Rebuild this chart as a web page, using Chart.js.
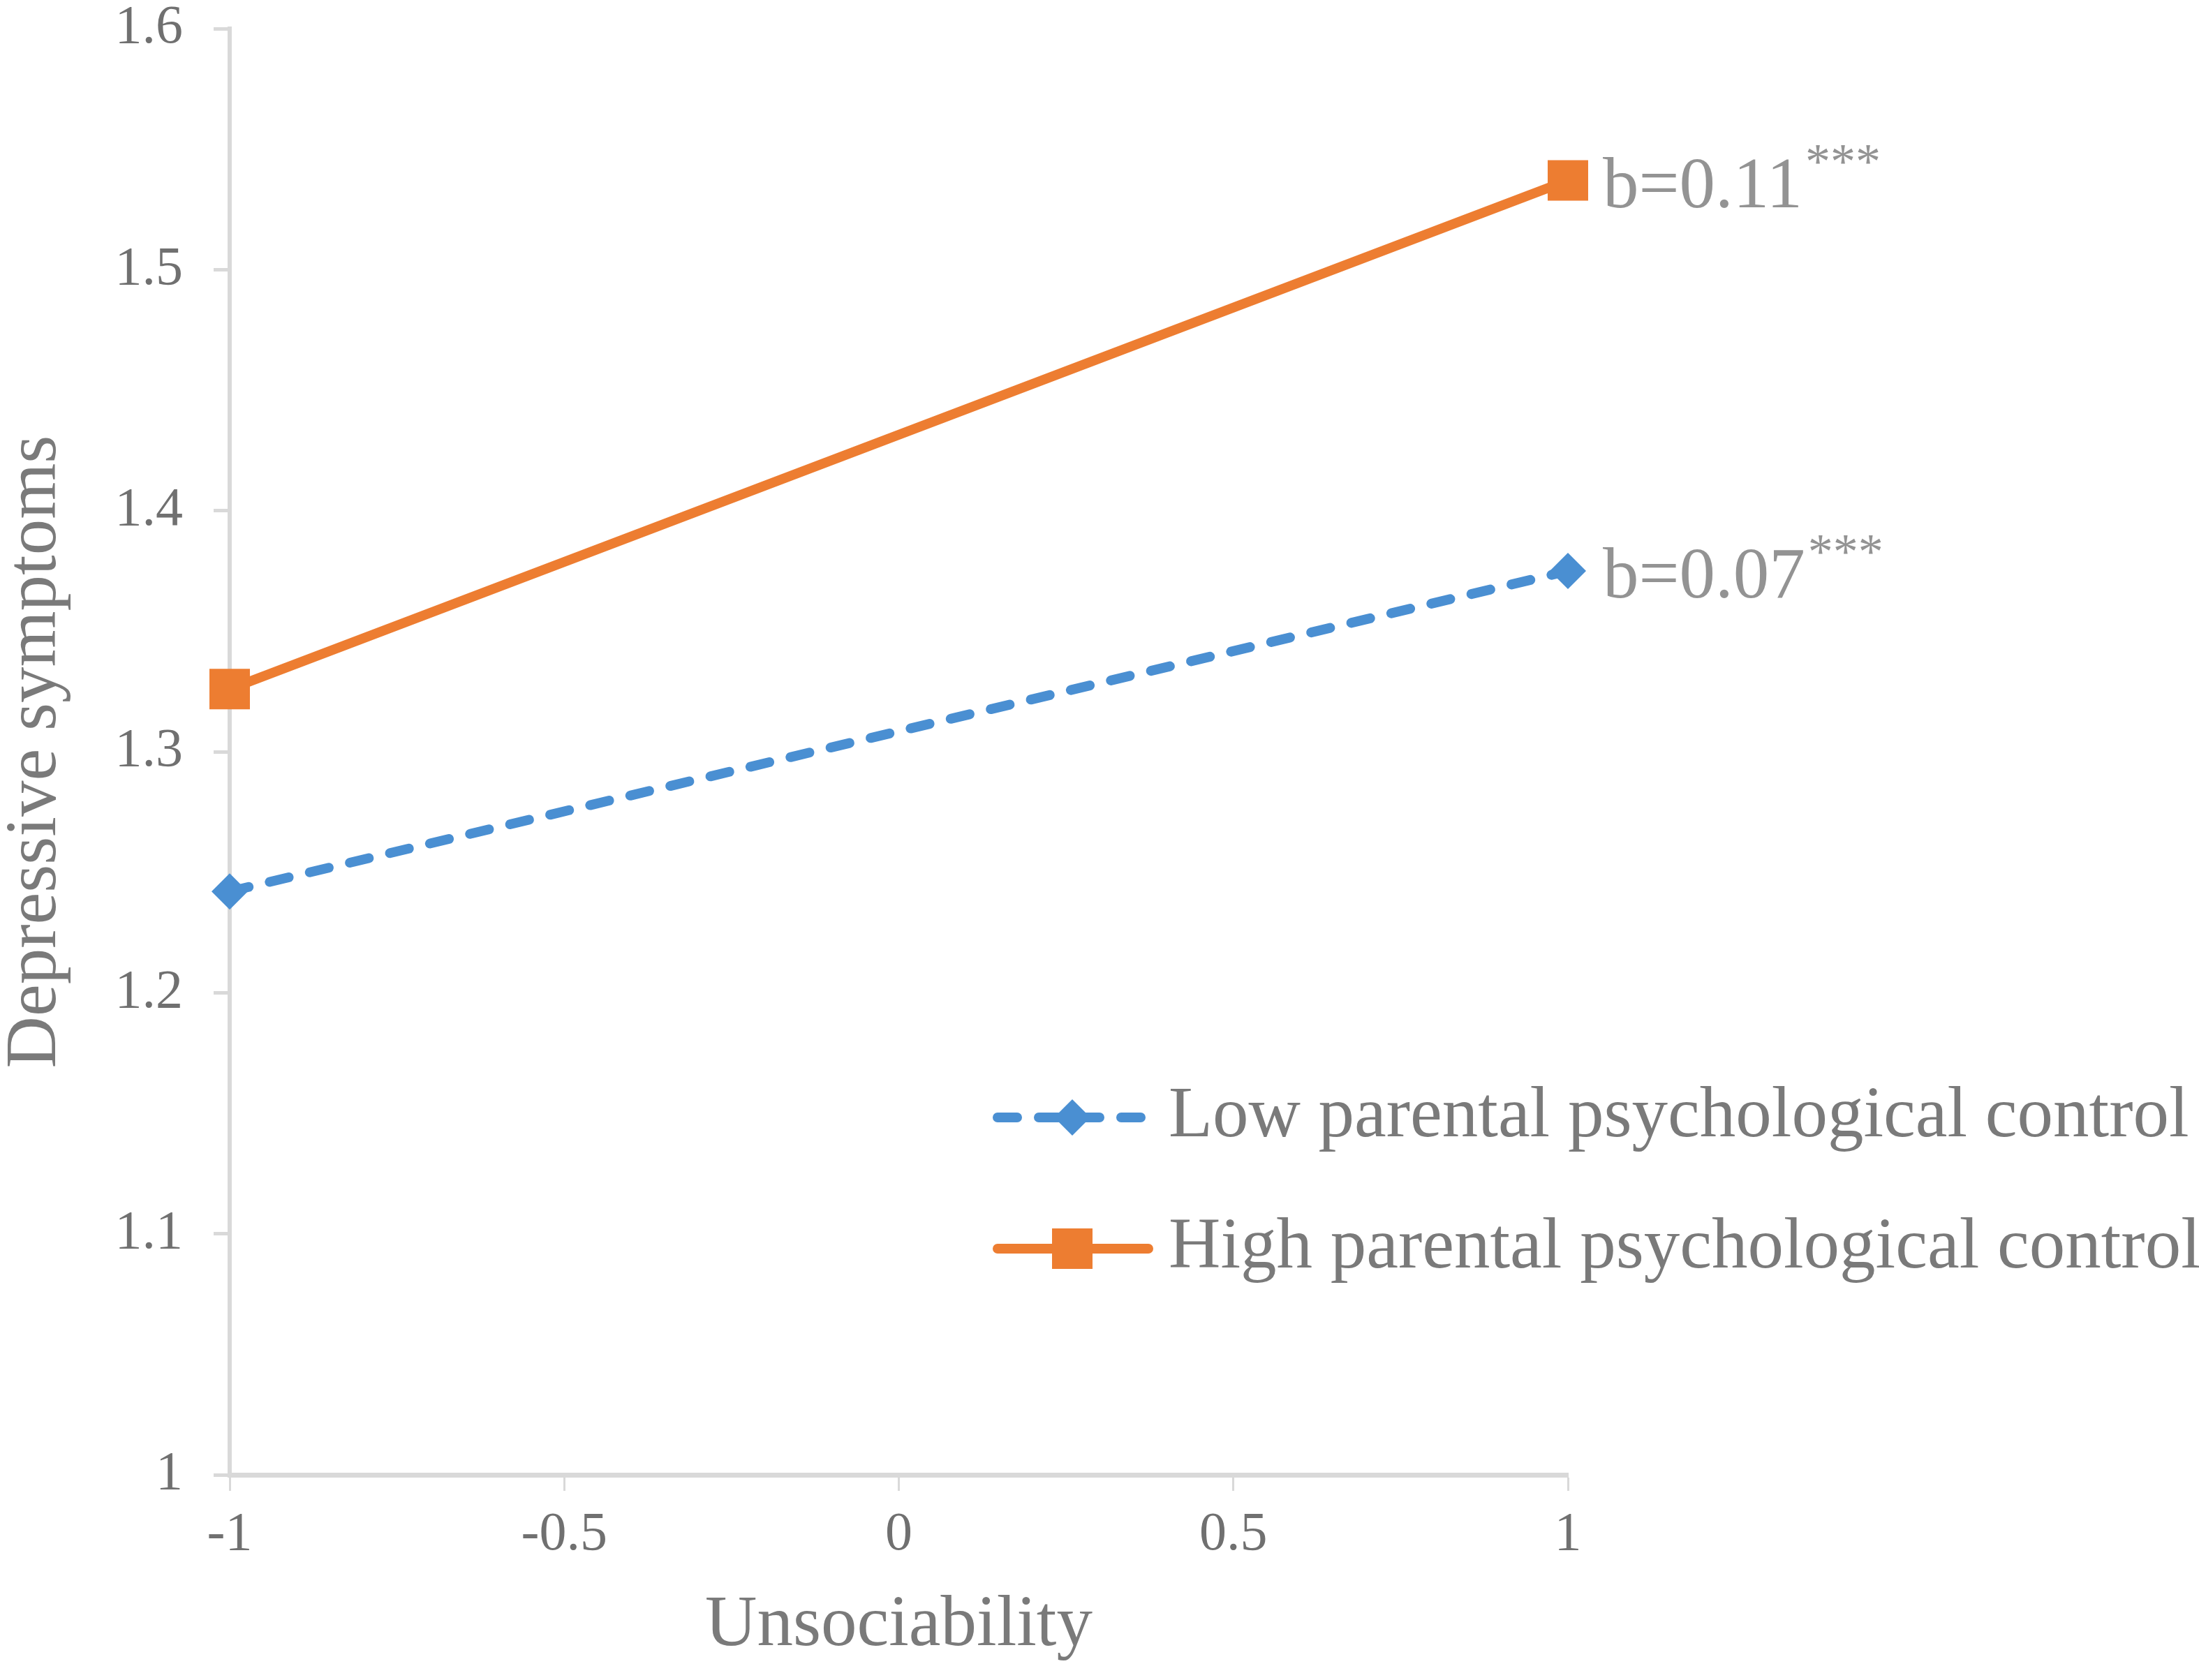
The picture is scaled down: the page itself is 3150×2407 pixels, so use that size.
<!DOCTYPE html>
<html>
<head>
<meta charset="utf-8">
<script src="https://cdn.jsdelivr.net/npm/chart.js@4.4.1/dist/chart.umd.min.js"></script>
<style>
  html, body { margin: 0; padding: 0; background: #ffffff; overflow: hidden; }
  canvas { display: block; }
</style>
</head>
<body>
<canvas id="simpleSlopes" width="3150" height="2407"></canvas>
<script>
// values
const unsociability = [-1, 1];
const lowControl = [1.242, 1.375];
const highControl = [1.326, 1.537];
const seriesNames = ["Low parental psychological control", "High parental psychological control"];
const slopeLabels = ["b=0.07", "b=0.11"];
const slopeStars = ["***", "***"];
const xTickValues = [-1, -0.5, 0, 0.5, 1];
const yTickValues = [1, 1.1, 1.2, 1.3, 1.4, 1.5, 1.6];

const FONT = "'Liberation Serif', 'Times New Roman', serif";
const BLUE = "#4a8fd2";
const ORANGE = "#ed7d31";
const AXIS = "#d9d9d9";

function toPoints(values) {
    return unsociability.map((x, i) => ({ x: x, y: values[i] }));
}

// draws the two legend rows inside the plot, like the original
const legendPlugin = {
    id: "insideLegend",
    afterDraw(chart, args, opts) {
        const ctx = chart.ctx;
        chart.data.datasets.forEach((ds, i) => {
            const y = opts.top + i * opts.gap;
            ctx.save();
            ctx.strokeStyle = ds.borderColor;
            ctx.lineWidth = ds.borderWidth;
            ctx.lineCap = "round";
            ctx.setLineDash(ds.borderDash || []);
            ctx.beginPath();
            ctx.moveTo(opts.lineStart, y);
            ctx.lineTo(opts.lineEnd, y);
            ctx.stroke();
            ctx.setLineDash([]);
            ctx.fillStyle = ds.pointBackgroundColor;
            const r = ds.pointRadius;
            const mid = opts.marker;
            ctx.beginPath();
            if (ds.pointStyle === "rectRot") {
                ctx.moveTo(mid - r, y);
                ctx.lineTo(mid, y - r);
                ctx.lineTo(mid + r, y);
                ctx.lineTo(mid, y + r);
                ctx.closePath();
            } else {
                const h = r * Math.SQRT1_2;
                ctx.rect(mid - h, y - h, 2 * h, 2 * h);
            }
            ctx.fill();
            ctx.fillStyle = opts.color;
            ctx.font = opts.fontSize + "px " + FONT;
            ctx.textBaseline = "middle";
            ctx.textAlign = "left";
            ctx.fillText(ds.label, opts.textStart, y);
            ctx.restore();
        });
    }
};

// slope labels next to the right-hand end of each line
const slopePlugin = {
    id: "slopeText",
    afterDatasetsDraw(chart, args, opts) {
        const ctx = chart.ctx;
        chart.data.datasets.forEach((ds, i) => {
            const meta = chart.getDatasetMeta(i);
            const pt = meta.data[meta.data.length - 1];
            const x = pt.x + opts.dx;
            const y = pt.y + opts.dy;
            ctx.save();
            ctx.fillStyle = opts.color;
            ctx.textAlign = "left";
            ctx.textBaseline = "alphabetic";
            ctx.font = opts.fontSize + "px " + FONT;
            ctx.fillText(slopeLabels[i], x, y);
            const w = ctx.measureText(slopeLabels[i]).width;
            ctx.font = opts.supSize + "px " + FONT;
            ctx.fillText(slopeStars[i], x + w + opts.supGap, y - opts.supRise);
            ctx.restore();
        });
    }
};

const ctx = document.getElementById("simpleSlopes").getContext("2d");

new Chart(ctx, {
    type: "line",
    data: {
        datasets: [
            {
                label: seriesNames[0],
                data: toPoints(lowControl),
                borderColor: BLUE,
                backgroundColor: BLUE,
                borderWidth: 14,
                borderDash: [28, 31],
                borderCapStyle: "round",
                pointStyle: "rectRot",
                pointRadius: 26,
                pointBackgroundColor: BLUE,
                pointBorderWidth: 0,
                clip: false
            },
            {
                label: seriesNames[1],
                data: toPoints(highControl),
                borderColor: ORANGE,
                backgroundColor: ORANGE,
                borderWidth: 14,
                pointStyle: "rect",
                pointRadius: 41,
                pointBackgroundColor: ORANGE,
                pointBorderWidth: 0,
                clip: false
            }
        ]
    },
    options: {
        responsive: false,
        devicePixelRatio: 1,
        animation: false,
        layout: {
            padding: { top: 0, right: 904, bottom: 0, left: 0 }
        },
        plugins: {
            legend: { display: false },
            tooltip: { enabled: false },
            insideLegend: {
                top: 1601,
                gap: 188,
                lineStart: 1429,
                lineEnd: 1645,
                marker: 1536,
                textStart: 1674,
                fontSize: 103,
                color: "#7a7a7a"
            },
            slopeText: {
                dx: 50,
                dy: 38,
                fontSize: 103,
                supSize: 72,
                supGap: 4,
                supRise: 42,
                color: "#939393"
            }
        },
        scales: {
            x: {
                type: "linear",
                min: -1,
                max: 1,
                afterFit(scale) { scale.height = 294; },
                afterBuildTicks(scale) { scale.ticks = xTickValues.map(v => ({ value: v })); },
                grid: {
                    display: true,
                    drawOnChartArea: false,
                    drawTicks: true,
                    tickLength: 23,
                    tickWidth: 3,
                    tickColor: AXIS
                },
                border: { display: true, color: AXIS, width: 7 },
                ticks: {
                    padding: 25,
                    color: "#707070",
                    font: { family: FONT, size: 78, lineHeight: 1 },
                    maxRotation: 0,
                    callback: v => String(v)
                },
                title: {
                    display: true,
                    text: "Unsociability",
                    color: "#7a7a7a",
                    font: { family: FONT, size: 103, lineHeight: 1 },
                    padding: { top: 0, bottom: 26 }
                }
            },
            y: {
                type: "linear",
                min: 1,
                max: 1.6,
                afterFit(scale) {
                    scale.width = 329;
                    // keep the top of the axis close to the canvas edge
                    scale.paddingTop = 40;
                    scale.paddingBottom = 0;
                },
                afterBuildTicks(scale) { scale.ticks = yTickValues.map(v => ({ value: v })); },
                grid: {
                    display: true,
                    drawOnChartArea: false,
                    drawTicks: true,
                    tickLength: 23,
                    tickWidth: 5,
                    tickColor: AXIS
                },
                border: { display: true, color: AXIS, width: 6 },
                ticks: {
                    padding: 44,
                    color: "#707070",
                    font: { family: FONT, size: 78, lineHeight: 1 },
                    callback: v => String(Math.round(v * 10) / 10)
                },
                title: {
                    display: true,
                    text: "Depressive symptoms",
                    color: "#7a7a7a",
                    font: { family: FONT, size: 103, lineHeight: 1 },
                    padding: { top: 0, bottom: 0 }
                }
            }
        }
    },
    plugins: [slopePlugin, legendPlugin]
});
</script>
</body>
</html>
